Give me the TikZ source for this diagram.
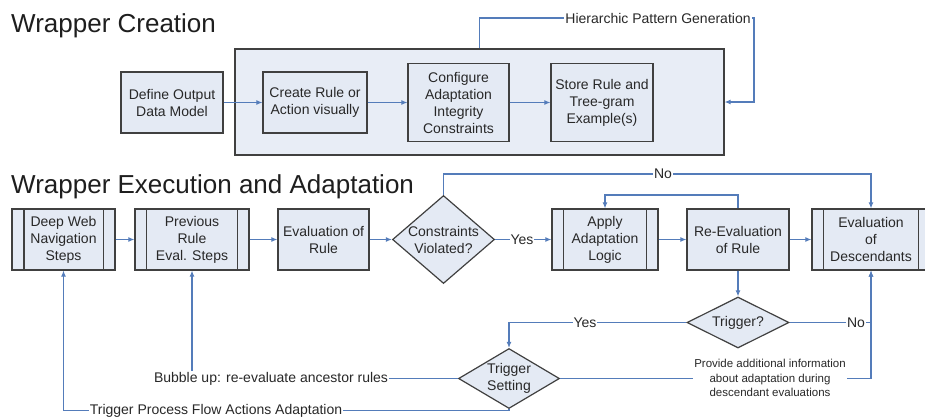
\documentclass[tikz,border=0pt]{standalone}
\usepackage{fontspec}
\setmainfont{Liberation Sans}
\usetikzlibrary{arrows.meta,shapes.geometric}
\definecolor{conncol}{RGB}{84,124,186}
\definecolor{boxfill}{RGB}{228,234,244}
\definecolor{bigfill}{RGB}{232,237,246}
\definecolor{boxline}{RGB}{64,64,64}
\definecolor{txtcol}{RGB}{40,40,40}
\definecolor{titlecol}{RGB}{30,30,30}
\begin{document}
\begin{tikzpicture}[x=1pt,y=-1pt,
  box/.style={draw=boxline, fill=boxfill, line width=1.2pt, align=center, inner sep=0pt, text=txtcol, font=\fontsize{14}{17}\selectfont},
  dia/.style={shape=diamond, draw=boxline, fill=boxfill, line width=1.2pt, inner sep=0pt},
  dtext/.style={align=center, text=txtcol, font=\fontsize{14}{17}\selectfont, inner sep=0pt},
  conn/.style={draw=conncol, line width=1.1pt},
  arr/.style={conn, -{Latex[length=6pt,width=5pt]}},
  lbl/.style={fill=white, inner sep=1pt, text=txtcol, font=\fontsize{14}{17}\selectfont},
  small/.style={fill=white, inner sep=1pt, align=center, text=txtcol, font=\fontsize{11.5}{14.5}\selectfont},
  title/.style={anchor=base west, inner sep=0pt, text=titlecol, font=\fontsize{26}{30}\selectfont}]
\useasboundingbox (0,0) rectangle (925,416);

% titles
\node[title] (t1) at (11,32) {Wrapper Creation};
\node[title] (t2) at (11,193) {Wrapper Execution and Adaptation};

% ---- Wrapper creation
\node[box, fill=bigfill, minimum width=489pt, minimum height=106pt] (big) at (479.5,102) {};
\node[box, minimum width=102pt, minimum height=61pt] (def) at (172,102.5) {Define Output\\Data Model};
\node[box, minimum width=104pt, minimum height=61pt] (cre) at (315,102.5) {Create Rule or\\Action visually};
\node[box, minimum width=101pt, minimum height=78pt] (cfg) at (458.5,102.5) {Configure\\Adaptation\\Integrity\\Constraints};
\node[box, minimum width=102pt, minimum height=78pt] (sto) at (602,102.5) {Store Rule and\\Tree-gram\\Example(s)};

\draw[arr] (def.east) -- (cre.west);
\draw[arr] (cre.east) -- (cfg.west);
\draw[arr] (cfg.east) -- (sto.west);

\coordinate (hpr) at (754,18);
\draw[arr] (big.north) |- (hpr) |- (big.east);
\node[lbl] (hpl) at (658,18) {Hierarchic Pattern Generation};

% ---- Wrapper execution
\node[box, minimum width=103pt, minimum height=61pt] (dw) at (63.5,239.5) {Deep Web\\Navigation\\Steps};
\node[box, minimum width=114pt, minimum height=61pt] (pr) at (192,239.5) {Previous\\Rule\\Eval. Steps};
\node[box, minimum width=91pt, minimum height=61pt] (ev) at (323.5,239.5) {Evaluation of\\Rule};
\node[dia, minimum width=102pt, minimum height=88pt, label={[dtext]center:Constraints\\Violated?}] (cv) at (443.5,239.5) {};
\node[box, minimum width=106pt, minimum height=61pt] (ap) at (605,239.5) {Apply\\Adaptation\\Logic};
\node[box, minimum width=102pt, minimum height=61pt] (re) at (738,239.5) {Re-Evaluation\\of Rule};
\node[box, minimum width=118pt, minimum height=61pt] (ed) at (871,239.5) {Evaluation\\of\\Descendants};
\node[dia, minimum width=102pt, minimum height=51pt, label={[dtext]center:Trigger?}] (trig) at (738,322.5) {};
\node[dia, minimum width=101pt, minimum height=60pt, label={[dtext]center:Trigger\\Setting}] (ts) at (509,378.5) {};

% inner side lines of process boxes
\foreach \n/\d in {dw/12.5, pr/12, ap/12, ed/12}{
  \draw[draw=boxline, line width=1.2pt] ([xshift=\d pt]\n.north west) -- ([xshift=\d pt]\n.south west);
  \draw[draw=boxline, line width=1.2pt] ([xshift=-\d pt]\n.north east) -- ([xshift=-\d pt]\n.south east);
}

% main flow
\draw[arr] (dw.east) -- (pr.west);
\draw[arr] (pr.east) -- (ev.west);
\draw[arr] (ev.east) -- (cv.west);
\draw[arr] (cv.east) -- (ap.west);
\node[lbl] (yes1) at (522,239.5) {Yes};
\draw[arr] (ap.east) -- (re.west);
\draw[arr] (re.east) -- (ed.west);

% feedback re-evaluation -> apply
\coordinate (fb) at (738,195);
\draw[arr] (re.north) -- (fb) -| (ap.north);

% No from constraints
\coordinate (notop) at (663,174);
\draw[arr] (cv.north) |- (notop) -| (ed.north);
\node[lbl] (nol) at (notop) {No};

% provide additional information (joins the No path to the descendants)
\draw[arr] (ts.east) -| (ed.south);
\node[small] (prov) at (770,378) {Provide additional information\\about adaptation during\\descendant evaluations};

% trigger
\draw[arr] (re.south) -- (trig.north);
\draw[arr] (trig.west) -| (ts.north);
\node[lbl] (yes2) at (585,322.5) {Yes};
\draw[arr] (trig.east) -| (ed.south);
\node[lbl] (no2) at (856,322.5) {No};

% bubble up
\draw[arr] (ts.west) -| (pr.south);
\node[lbl] (bub) at (271,378.5) {Bubble up: re-evaluate ancestor rules};

% trigger process flow
\coordinate (tpf) at (216,410.5);
\draw[arr] (ts.south) |- (tpf) -| (dw.south);
\node[lbl] (tpl) at (tpf) {Trigger Process Flow Actions Adaptation};
\end{tikzpicture}
\end{document}
